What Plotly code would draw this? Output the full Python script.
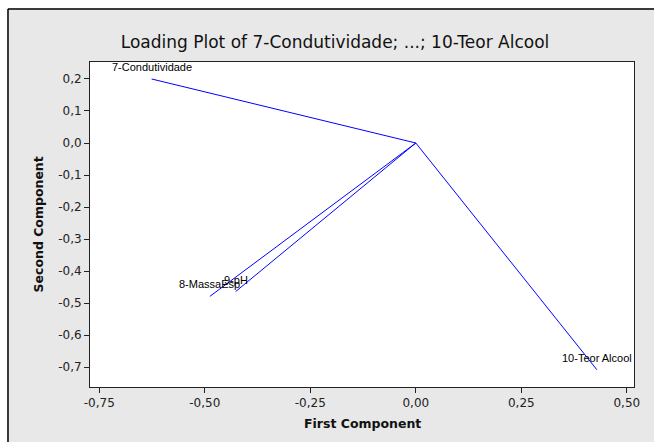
import plotly.graph_objects as go

# Loadings of the first two principal components
variables = ["7-Condutividade", "8-MassaEsp", "9-pH", "10-Teor Alcool"]
first_component = [-0.626, -0.488, -0.427, 0.429]
second_component = [0.200, -0.479, -0.464, -0.708]

x_ticks = [-0.75, -0.50, -0.25, 0.00, 0.25, 0.50]
x_tick_labels = ["-0,75", "-0,50", "-0,25", "0,00", "0,25", "0,50"]
y_ticks = [0.2, 0.1, 0.0, -0.1, -0.2, -0.3, -0.4, -0.5, -0.6, -0.7]
y_tick_labels = ["0,2", "0,1", "0,0", "-0,1", "-0,2", "-0,3", "-0,4", "-0,5", "-0,6", "-0,7"]

W, H = 654, 442
L, R, T, B = 90, 20, 62, 55
pw, ph = W - L - R, H - T - B

def px_x(px):
    return (px - L) / pw

def px_y(py):
    return 1 - (py - T) / ph

fig = go.Figure()

# One vector from the origin to each variable's loading
for name, x, y in zip(variables, first_component, second_component):
    fig.add_trace(go.Scatter(
        x=[0, x], y=[0, y], mode="lines",
        line=dict(color="#0000ff", width=1),
        hoverinfo="skip", showlegend=False,
    ))

axis_common = dict(
    showgrid=False, zeroline=False, showline=True, linecolor="#222222",
    linewidth=1, mirror=True, ticks="outside", ticklen=5, tickcolor="#222222",
    tickfont=dict(family="DejaVu Sans", size=12, color="#222222"),
)

fig.update_xaxes(range=[-0.772, 0.517], tickvals=x_ticks, ticktext=x_tick_labels, **axis_common)
fig.update_yaxes(range=[-0.762, 0.253], tickvals=y_ticks, ticktext=y_tick_labels, **axis_common)

shapes = [
    dict(type="rect", xref="paper", yref="paper", x0=px_x(-5), x1=px_x(W + 5),
         y0=px_y(-5), y1=px_y(8), fillcolor="white", line=dict(width=0), layer="above"),
    dict(type="rect", xref="paper", yref="paper", x0=px_x(-5), x1=px_x(7),
         y0=px_y(-5), y1=px_y(H + 5), fillcolor="white", line=dict(width=0), layer="above"),
    dict(type="line", xref="paper", yref="paper", x0=px_x(8), x1=px_x(W + 5),
         y0=px_y(9), y1=px_y(9), line=dict(color="black", width=1.5), layer="above"),
    dict(type="line", xref="paper", yref="paper", x0=px_x(8), x1=px_x(8),
         y0=px_y(9), y1=px_y(H + 5), line=dict(color="black", width=1.5), layer="above"),
]

# Variable names centred just above the tip of each vector
annotations = [
    dict(text=name, x=x, y=y, xref="x", yref="y", showarrow=False,
         xanchor="center", yanchor="middle", yshift=12,
         font=dict(family="Liberation Sans", size=11, color="black"))
    for name, x, y in zip(variables, first_component, second_component)
]

annotations += [
    dict(text="First Component", xref="paper", yref="paper", x=0.5, y=px_y(423),
         xanchor="center", yanchor="middle", showarrow=False,
         font=dict(family="DejaVu Sans", size=12.5, color="#111111", weight="bold")),
    dict(text="Second Component", xref="paper", yref="paper", x=px_x(38), y=0.5,
         xanchor="center", yanchor="middle", showarrow=False, textangle=-90,
         font=dict(family="DejaVu Sans", size=12.5, color="#111111", weight="bold")),
]

fig.update_layout(
    width=W, height=H,
    margin=dict(l=L, r=R, t=T, b=B),
    paper_bgcolor="#e8e8e8", plot_bgcolor="white",
    title=dict(text="Loading Plot of 7-Condutividade; ...; 10-Teor Alcool",
               x=335 / W, xanchor="center", y=1 - 42 / H, yanchor="middle",
               font=dict(family="DejaVu Sans", size=17, color="#111111")),
    shapes=shapes, annotations=annotations,
)

fig.write_html("out.html")
